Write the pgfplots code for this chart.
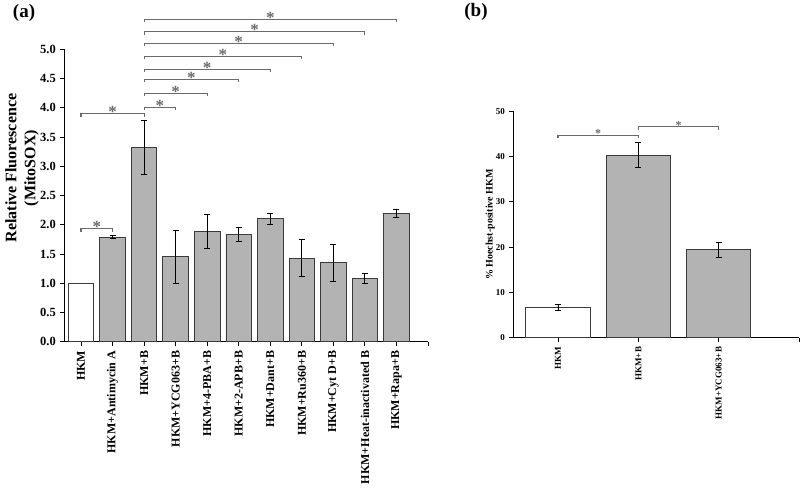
\documentclass[border=0pt]{standalone}
\usepackage{fontspec}
\setmainfont{Liberation Serif}
\usepackage{pgfplots}
\pgfplotsset{compat=1.18}
\definecolor{bargray}{HTML}{B3B3B3}
\definecolor{edgegray}{HTML}{3A3A3A}
\definecolor{sig}{HTML}{6A6A6A}
\tikzset{
  sigline/.style={draw=sig, line width=1.1pt},
  sigstarA/.style={text=sig, font=\bfseries\fontsize{17}{17}\selectfont, anchor=base, inner sep=0pt, yshift=-4pt},
  sigstarB/.style={text=sig, font=\bfseries\fontsize{12}{12}\selectfont, anchor=base, inner sep=0pt, yshift=-2.6pt},
}
% x1, x2, y, xmid, star style
\newcommand{\sigbr}[5]{%
  \draw[sigline] ([yshift=-3pt]axis cs:#1,#3) -- (axis cs:#1,#3) -- (axis cs:#2,#3) -- ([yshift=-3pt]axis cs:#2,#3);
  \node[#5] at (axis cs:#4,#3) {*};}
\pgfplotsset{
  errstyle/.style={error bars/.cd, y dir=both, y explicit,
    error bar style={black, line width=0.9pt},
    error mark options={black, line width=0.9pt, mark size=3pt, rotate=90}},
}
\begin{document}
\begin{tikzpicture}[x=1pt,y=1pt]
\path[use as bounding box] (0,0) rectangle (800,-489);
\node[font=\bfseries\fontsize{19}{19}\selectfont, inner sep=0pt] at (24,-13) {(a)};
\node[font=\bfseries\fontsize{19}{19}\selectfont, inner sep=0pt] at (476,-12) {(b)};
% ---------------- panel (a)
\begin{axis}[
  at={(64pt,-341.7pt)}, anchor=south west, scale only axis,
  width=364pt, height=292.4pt,
  xmin=-0.54, xmax=11, ymin=0, ymax=5,
  axis x line*=bottom, axis y line*=left,
  axis line style={-, black, line width=0.9pt},
  clip=false,
  tick align=outside, major tick length=4pt,
  every tick/.style={black, line width=0.9pt},
  ytick={0,0.5,...,5.0},
  xtick={0,1,...,11},
  xticklabels={HKM,HKM+Antimycin A,HKM+B,HKM+YCG063+B,HKM+4-PBA+B,HKM+2-APB+B,HKM+Dant+B,HKM+Ru360+B,HKM+Cyt D+B,HKM+Heat-inactivated B,HKM+Rapa+B,{}},
  /pgf/number format/.cd, fixed, fixed zerofill, precision=1, assume math mode=true,
  /pgfplots/.cd,
  xticklabel shift=4pt, yticklabel shift=3pt,
  yticklabel style={font=\bfseries\fontsize{12.5}{12.5}\selectfont, inner sep=1pt},
  xticklabel style={font=\bfseries\fontsize{12}{12}\selectfont, rotate=90, anchor=east, inner sep=1pt},
  ylabel={Relative Fluorescence\\(MitoSOX)},
  ylabel style={font=\bfseries\fontsize{16}{19}\selectfont, align=center, at={(axis description cs:-0.115,0.594)}, anchor=center, rotate=0},
]
\addplot[ybar, bar width=25.5pt, bar shift=0pt, fill=white, draw=edgegray, line width=0.9pt]
  coordinates {(0,1.00)};
\addplot[ybar, bar width=25.5pt, bar shift=0pt, fill=bargray, draw=edgegray, line width=0.9pt, errstyle]
  coordinates {
  (1,1.79) +- (0,0.02)
  (2,3.32) +- (0,0.46)
  (3,1.45) +- (0,0.46)
  (4,1.88) +- (0,0.29)
  (5,1.84) +- (0,0.12)
  (6,2.10) +- (0,0.09)
  (7,1.43) +- (0,0.31)
  (8,1.35) +- (0,0.32)
  (9,1.08) +- (0,0.085)
  (10,2.20) +- (0,0.07)
  };
\sigbr{0}{1}{1.93}{0.5}{sigstarA}
\sigbr{0}{2}{3.90}{1}{sigstarA}
\sigbr{2}{3}{4.01}{2.5}{sigstarA}
\sigbr{2}{4}{4.25}{3}{sigstarA}
\sigbr{2}{5}{4.49}{3.5}{sigstarA}
\sigbr{2}{6}{4.66}{4}{sigstarA}
\sigbr{2}{7}{4.88}{4.5}{sigstarA}
\sigbr{2}{8}{5.10}{5}{sigstarA}
\sigbr{2}{9}{5.30}{5.5}{sigstarA}
\sigbr{2}{10}{5.51}{6}{sigstarA}
\end{axis}
% ---------------- panel (b)
\begin{axis}[
  at={(513pt,-337.7pt)}, anchor=south west, scale only axis,
  width=286pt, height=226.5pt,
  xmin=-0.56, xmax=3, ymin=0, ymax=50,
  axis x line*=bottom, axis y line*=left,
  axis line style={-, black, line width=0.9pt},
  clip=false,
  tick align=outside, major tick length=4pt,
  every tick/.style={black, line width=0.9pt},
  ytick={0,10,...,50},
  xtick={0,1,2,3},
  xticklabels={HKM,HKM+B,HKM+YCG063+B,{}},
  /pgf/number format/assume math mode=true,
  xticklabel shift=4pt, yticklabel shift=3pt,
  yticklabel style={font=\bfseries\fontsize{9}{9}\selectfont, inner sep=1pt},
  xticklabel style={font=\bfseries\fontsize{9}{9}\selectfont, rotate=90, anchor=east, inner sep=1pt},
  ylabel={\% Hoechst-positive HKM},
  ylabel style={font=\bfseries\fontsize{10}{12}\selectfont, at={(axis description cs:-0.08,0.5)}, anchor=center, rotate=0},
]
\addplot[ybar, bar width=64.5pt, bar shift=0pt, fill=white, draw=edgegray, line width=0.9pt, errstyle]
  coordinates {(0,6.7) +- (0,0.6)};
\addplot[ybar, bar width=64.5pt, bar shift=0pt, fill=bargray, draw=edgegray, line width=0.9pt, errstyle]
  coordinates {
  (1,40.3) +- (0,2.7)
  (2,19.4) +- (0,1.7)
  };
\sigbr{0}{1}{44.7}{0.5}{sigstarB}
\sigbr{1}{2}{46.6}{1.5}{sigstarB}
\end{axis}
\end{tikzpicture}
\end{document}
